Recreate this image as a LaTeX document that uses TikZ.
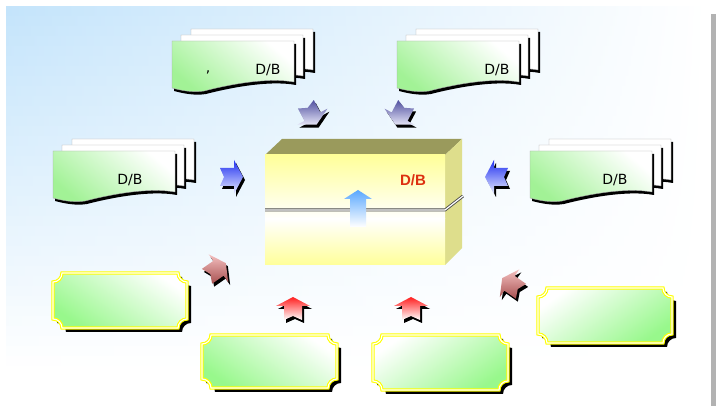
\documentclass[tikz,border=0pt]{standalone}
\usepackage{fontspec}
\setmainfont{DejaVu Sans}
\newfontfamily\lsb{Liberation Sans}
\definecolor{bgblue}{HTML}{C4E4FB}
\definecolor{docgreen}{HTML}{A2F296}
\definecolor{pagegray}{HTML}{A8A8A8}
\definecolor{boxtop}{HTML}{9A9A5C}
\definecolor{boxside}{HTML}{DEDE8C}
\definecolor{boxyellow}{HTML}{FFFF99}
\definecolor{dbred}{HTML}{DD3010}
\definecolor{plaqueyellow}{HTML}{FFFF00}
\definecolor{plaquegreen}{HTML}{98F88C}
\definecolor{purpA}{HTML}{5050A0}
\definecolor{purpB}{HTML}{E4E4F6}
\definecolor{blueA}{HTML}{2030F0}
\definecolor{blueB}{HTML}{E8ECFF}
\definecolor{redA}{HTML}{FF2020}
\definecolor{redB}{HTML}{FFFFFF}
\definecolor{brA}{HTML}{F4C0C0}
\definecolor{brB}{HTML}{A85050}
\definecolor{inblue}{HTML}{5AA8FF}
\newcommand\pagepath[2]{(#1,#2) -- ({#1+122},#2) -- ({#1+122},{#2+41}) .. controls ({#1+95},{#2+36}) and ({#1+55},{#2+44}) .. ({#1+32},{#2+50}) .. controls ({#1+20},{#2+52}) and ({#1+8},{#2+49}) .. (#1,{#2+47}) -- cycle}
\newcommand\docstack[2]{%
  \fill[black] \pagepath{#1+21}{#2-9};
  \filldraw[fill=white,draw=pagegray] \pagepath{#1+19}{#2-12};
  \fill[black] \pagepath{#1+11}{#2-3};
  \filldraw[fill=white,draw=pagegray] \pagepath{#1+9}{#2-6};
  \fill[black] \pagepath{#1+2}{#2+3};
  \shade[draw=pagegray,top color=white,bottom color=docgreen,shading angle=-40] \pagepath{#1}{#2};
}
\newcommand\plaquepath[4]{({#1+9},#2) -- ({#3-9},#2) .. controls ({#3-9},{#2+5}) and ({#3-5},{#2+9}) .. (#3,{#2+9}) -- (#3,{#4-9}) .. controls ({#3-5},{#4-9}) and ({#3-9},{#4-5}) .. ({#3-9},#4) -- ({#1+9},#4) .. controls ({#1+9},{#4-5}) and ({#1+5},{#4-9}) .. (#1,{#4-9}) -- (#1,{#2+9}) .. controls ({#1+5},{#2+9}) and ({#1+9},{#2+5}) .. cycle}
\newcommand\plaque[5]{%
  \fill[black] \plaquepath{#1+4}{#2+4}{#3+4}{#4+4};
  \shade[top color=white,bottom color=plaquegreen,shading angle=#5] \plaquepath{#1}{#2}{#3}{#4};
  \draw[plaqueyellow,line width=1.1pt,double=white,double distance=1.1pt] \plaquepath{#1}{#2}{#3}{#4};
}
\newcommand\arrowpath{(0,-12) -- (17,-3) -- (9,-3) -- (9,11) -- (0,7) -- (-9,11) -- (-9,-3) -- (-17,-3) -- cycle}
\newcommand\blkarrow[5]{%
  \fill[black,shift={({#1+2},{#2+3})},rotate=#3] \arrowpath;
  \shade[top color=#4,bottom color=#5,shift={(#1,#2)},rotate=#3] \arrowpath;
}
\begin{document}
\begin{tikzpicture}[x=1pt,y=-1pt]
\tikzset{doclabel/.style={font=\fontsize{14}{16}\selectfont,text=black,inner sep=0pt}}
\useasboundingbox (0,0) rectangle (716,406);
\fill[white] (0,0) rectangle (716,406);
% background
\foreach \i in {0,...,39}{
  \pgfmathtruncatemacro\p{100-100*\i/36}
  \ifnum\p<0 \def\p{0}\fi
  \shade[left color=bgblue!\p!white,right color=white] (6,{7+\i*10}) rectangle (706,{17.5+\i*10});
}
\fill[black!30] (711,14) rectangle (716,406);
% document stacks
\docstack{172}{41}
\docstack{397}{41}
\docstack{53}{151}
\docstack{530}{151}
\node[doclabel] (d1) at (268,70) {D/B};
\node[doclabel] (c1) at (208,72) {,};
\node[doclabel] (d2) at (497,70) {D/B};
\node[doclabel] (d3) at (130,180) {D/B};
\node[doclabel] (d4) at (615,180) {D/B};
% central box
\fill[boxtop] (265,155) -- (282,139) -- (462,139) -- (445,155) -- cycle;
\fill[boxside] (445,155) -- (462,139) -- (462,248) -- (445,265) -- cycle;
\shade[top color=boxyellow,bottom color=white] (265,155) rectangle (445,219);
\shade[top color=white,bottom color=boxyellow] (265,218.5) rectangle (445,265);
\draw[black!70,line width=0.9pt,double=white,double distance=1.2pt] (265,210) -- (445,210) -- (463,196);
\shade[top color=inblue,bottom color=white] (358,190) -- (372,199) -- (366,199) -- (366,227) -- (350,227) -- (350,199) -- (344,199) -- cycle;
\node[font=\lsb\bfseries\fontsize{15}{17}\selectfont,text=dbred,inner sep=0pt] (db) at (413,180) {D/B};
% arrows
\blkarrow{311}{114}{-152}{purpA}{purpB}
\blkarrow{401}{114}{152}{purpA}{purpB}
\blkarrow{231}{177}{-90}{blueA}{blueB}
\blkarrow{497}{177}{90}{blueA}{blueB}
\blkarrow{216}{270}{-55}{brA}{brB}
\blkarrow{512}{285}{55}{brA}{brB}
\blkarrow{293}{309}{0}{redA}{redB}
\blkarrow{411}{309}{0}{redA}{redB}
% plaques
\plaque{53}{273}{187}{328}{-35}
\plaque{202}{335}{337}{388}{-35}
\plaque{373}{335}{508}{390}{35}
\plaque{538}{288}{672}{343}{35}
\end{tikzpicture}
\end{document}
